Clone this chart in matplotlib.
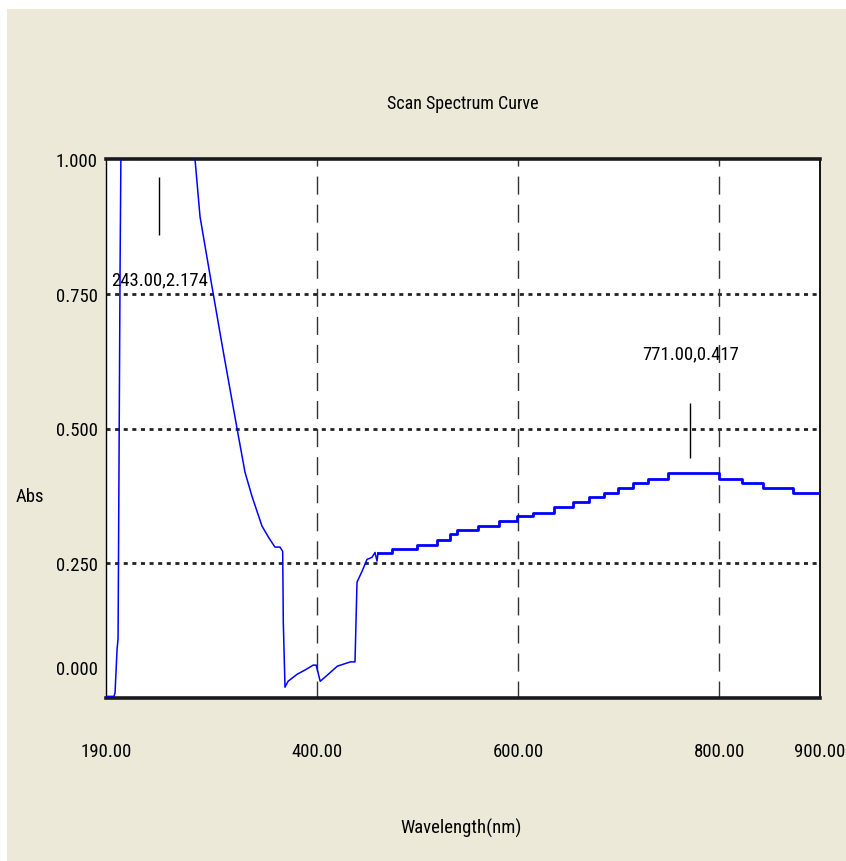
import matplotlib
matplotlib.use("Agg")
import matplotlib.pyplot as plt
import matplotlib.transforms as mtransforms
from matplotlib.patches import Rectangle

# UV part of the scan (smooth)
uv_wl = [190, 198, 199, 201, 202, 204, 206, 215, 243, 260, 272, 278.5,
         283.5, 295.4, 306.3, 320.3, 328.2, 335.2, 345.1, 352, 358, 363,
         365.7, 366.3, 368, 371, 380, 388, 396, 399, 403, 411, 420, 433,
         437.6, 438.6, 439.6, 444.6, 449.5, 454.5, 457.5, 459.5, 460.5]
uv_abs = [0.003, 0.003, 0.010, 0.090, 0.110, 0.800, 1.300, 1.900, 2.174, 1.800, 1.300, 1.000,
          0.893, 0.763, 0.646, 0.500, 0.419, 0.374, 0.319, 0.297, 0.280, 0.280,
          0.272, 0.141, 0.020, 0.031, 0.044, 0.052, 0.061, 0.061, 0.031, 0.044, 0.059, 0.067,
          0.067, 0.141, 0.215, 0.235, 0.257, 0.261, 0.270, 0.254, 0.269]

# visible part, stepped readout
vis_wl = [460.5, 474, 499, 519, 532, 539, 560, 581, 599, 615, 635, 654, 670,
          685, 699, 714, 729, 749, 771, 800, 822, 843, 873, 900]
vis_abs = [0.269, 0.276, 0.283, 0.294, 0.304, 0.311, 0.319, 0.328, 0.337, 0.344,
           0.354, 0.363, 0.372, 0.381, 0.389, 0.398, 0.406, 0.417, 0.417, 0.406,
           0.398, 0.389, 0.381, 0.381]

# picked peaks
peak_wl = [243.00, 771.00]
peak_abs = [2.174, 0.417]

x_ticks = [190, 400, 600, 800, 900]
y_ticks = [0.0, 0.25, 0.5, 0.75, 1.0]

plt.rcParams['font.family'] = ['Liberation Sans Narrow', 'Roboto Condensed', 'DejaVu Sans']
plt.rcParams['font.size'] = 13.5

fig = plt.figure(figsize=(8.46, 8.62), dpi=100, facecolor='white')
fig.patches.append(Rectangle((7 / 846, 0), 1 - 7 / 846, 1 - 10 / 862,
                             transform=fig.transFigure, facecolor='#ECE9D8',
                             edgecolor='none', zorder=-10))

ax = fig.add_axes([106 / 846, 1 - 699 / 862, 714 / 846, 539 / 862])
ax.set_facecolor('white')

ax.plot(uv_wl, uv_abs, color='#0000FF', lw=1.1, zorder=3)
ax.plot(vis_wl, vis_abs, color='#0000FF', lw=2.0, drawstyle='steps-post', zorder=3)

ax.set_xlim(190, 900)
ax.set_ylim(0, 1)

# grid: dotted horizontals, dashed verticals
for y in y_ticks[1:-1]:
    ax.axhline(y, color='#222222', lw=2.0, linestyle=(0, (1.45, 1.65)), zorder=2)
for x in x_ticks[1:-1]:
    ax.vlines(x, 1.0, 0.0, colors='#333333', lw=1.0, linestyles=[(7.9, (13, 7.2))], zorder=2)

# peak markers
for wl, a in zip(peak_wl, peak_abs):
    label = f"{wl:.2f},{a:.3f}"
    if a > 1.0:
        ax.vlines(wl, 0.859, 0.967, colors='black', lw=1.0, zorder=4)
        ax.text(wl, 0.776, label, ha='center', va='center', zorder=5)
    else:
        ax.vlines(wl, a + 0.029, a + 0.131, colors='black', lw=1.0, zorder=4)
        ax.text(wl, a + 0.222, label, ha='center', va='center', zorder=5)

ax.set_xticks(x_ticks)
ax.set_xticklabels([f"{v:.2f}" for v in x_ticks])
ax.set_yticks(y_ticks)
ax.set_yticklabels([f"{v:.3f}" for v in y_ticks])
ax.tick_params(axis='both', length=0)
ax.tick_params(axis='x', pad=32)
ax.tick_params(axis='y', pad=6)

# lowest y label sits above the frame
lbl0 = ax.get_yticklabels()[0]
lbl0.set_transform(lbl0.get_transform() + mtransforms.ScaledTranslation(0, 0.31, fig.dpi_scale_trans))

for side in ['top', 'bottom']:
    ax.spines[side].set_linewidth(2.6)
    ax.spines[side].set_color('#1a1a1a')
ax.spines['left'].set_linewidth(1.0)
ax.spines['right'].set_linewidth(1.3)

ax.set_title('Scan Spectrum Curve', fontsize=13, y=1.103, pad=0, va='center')
ax.set_xlabel('Wavelength(nm)')
ax.xaxis.set_label_coords(0.497, -0.223)
ax.set_ylabel('Abs', rotation=0, ha='center', va='center')
ax.yaxis.set_label_coords(-0.106, 0.374)

fig.savefig('out.png', dpi=100)
